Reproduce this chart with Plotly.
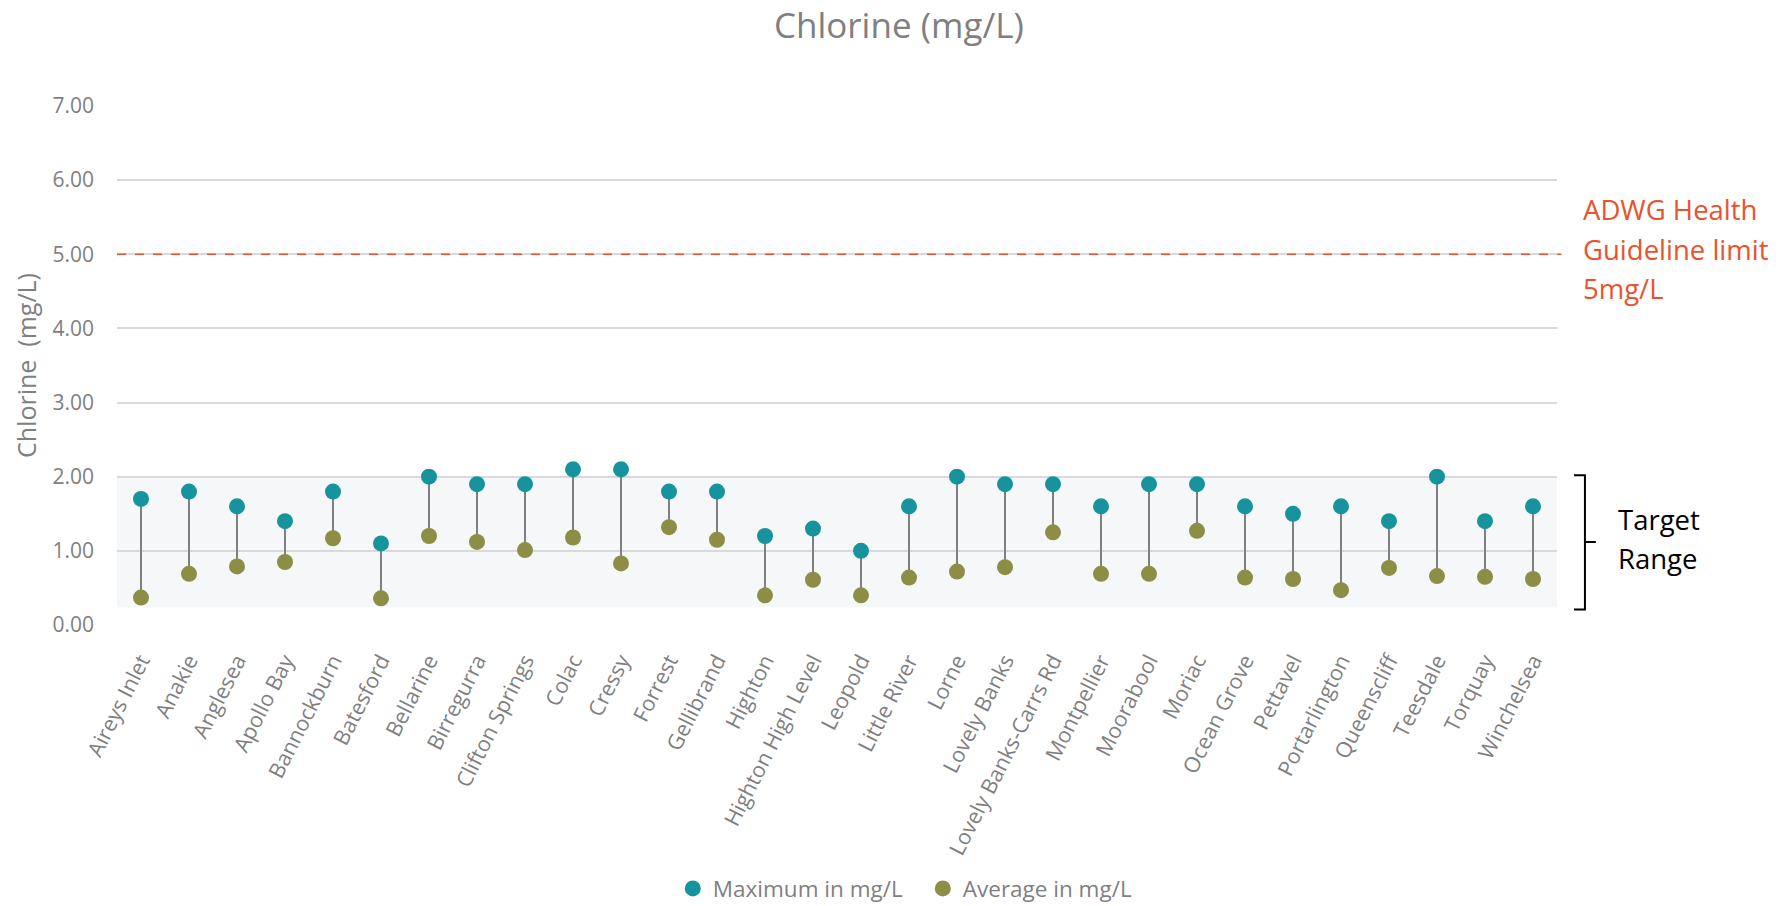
import plotly.graph_objects as go

sites = [
    "Aireys Inlet", "Anakie", "Anglesea", "Apollo Bay", "Bannockburn", "Batesford",
    "Bellarine", "Birregurra", "Clifton Springs", "Colac", "Cressy", "Forrest",
    "Gellibrand", "Highton", "Highton High Level", "Leopold", "Little River", "Lorne",
    "Lovely Banks", "Lovely Banks-Carrs Rd", "Montpellier", "Moorabool", "Moriac",
    "Ocean Grove", "Pettavel", "Portarlington", "Queenscliff", "Teesdale", "Torquay",
    "Winchelsea",
]
max_mg_l = [1.7, 1.8, 1.6, 1.4, 1.8, 1.1, 2.0, 1.9, 1.9, 2.1, 2.1, 1.8, 1.8, 1.2, 1.3,
            1.0, 1.6, 2.0, 1.9, 1.9, 1.6, 1.9, 1.9, 1.6, 1.5, 1.6, 1.4, 2.0, 1.4, 1.6]
avg_mg_l = [0.37, 0.69, 0.79, 0.85, 1.17, 0.36, 1.20, 1.12, 1.01, 1.18, 0.83, 1.32,
            1.15, 0.40, 0.61, 0.40, 0.64, 0.72, 0.78, 1.25, 0.69, 0.69, 1.27, 0.64,
            0.62, 0.47, 0.77, 0.66, 0.65, 0.62]
y_ticks = [0, 1, 2, 3, 4, 5, 6, 7]
guideline_limit = 5.0
guideline_lines = ["ADWG Health", "Guideline limit", "5mg/L"]
target_lines = ["Target", "Range"]
target_low, target_high = 0.24, 2.0

FONT = "Open Sans"
GREY = "#7f7f7f"
TEAL = "#17939e"
OLIVE = "#8b8e44"
RED = "#e8532d"

fig = go.Figure()

# stems joining average to maximum
stem_x, stem_y = [], []
for s, lo, hi in zip(sites, avg_mg_l, max_mg_l):
    stem_x += [s, s, None]
    stem_y += [lo, hi, None]
fig.add_trace(go.Scatter(x=stem_x, y=stem_y, mode="lines",
                         line=dict(color="#808080", width=2),
                         showlegend=False, hoverinfo="skip"))

fig.add_trace(go.Scatter(x=sites, y=max_mg_l, mode="markers", name="Maximum in mg/L",
                         marker=dict(color=TEAL, size=16)))
fig.add_trace(go.Scatter(x=sites, y=avg_mg_l, mode="markers", name="Average in mg/L",
                         marker=dict(color=OLIVE, size=16)))

# target range band
fig.add_shape(type="rect", xref="paper", yref="y", x0=0, x1=1.0,
              y0=target_low, y1=target_high, fillcolor="#f5f7f9",
              line=dict(width=0), layer="below")

# guideline limit line and its label (one annotation per line for wider leading)
fig.add_shape(type="line", xref="paper", yref="y", x0=0, x1=1.003,
              y0=guideline_limit, y1=guideline_limit,
              line=dict(color=RED, width=1.5, dash="dash"))
for i, line in enumerate(guideline_lines):
    fig.add_annotation(xref="paper", yref="y", x=1.0166,
                       y=guideline_limit + 0.60 - 0.53 * i,
                       xanchor="left", yanchor="middle", align="left",
                       text=line, showarrow=False,
                       font=dict(family=FONT, size=27.5, color=RED))

# bracket marking the target range
fig.add_shape(type="path", xref="paper", yref="y",
              path=(f"M 1.0118,{target_high + 0.02} L 1.0194,{target_high + 0.02} "
                    f"L 1.0194,{target_low - 0.03} L 1.0118,{target_low - 0.03} "
                    f"M 1.0194,1.12 L 1.027,1.12"),
              line=dict(color="black", width=2))
for i, line in enumerate(target_lines):
    fig.add_annotation(xref="paper", yref="y", x=1.0413, y=1.425 - 0.53 * i,
                       xanchor="left", yanchor="middle", align="left",
                       text=line, showarrow=False,
                       font=dict(family=FONT, size=27.5, color="black"))

fig.update_layout(
    width=1787, height=906,
    margin=dict(l=117, r=230, t=106, b=281, autoexpand=False),
    paper_bgcolor="white", plot_bgcolor="rgba(0,0,0,0)",
    font=dict(family=FONT, color=GREY),
    title=dict(text="Chlorine (mg/L)", x=0.503, xref="container", xanchor="center",
               y=0.972, yanchor="middle",
               font=dict(family=FONT, size=35, color=GREY)),
    legend=dict(orientation="h", x=0.3765, xref="container", xanchor="left",
                y=0.019, yref="container", yanchor="middle",
                font=dict(family=FONT, size=22.5, color=GREY),
                itemwidth=30, entrywidth=205, entrywidthmode="pixels",
                tracegroupgap=0, traceorder="normal"),
    showlegend=True,
)
fig.update_xaxes(type="category", categoryorder="array", categoryarray=sites,
                 range=[-0.5, len(sites) - 0.5], showgrid=False, zeroline=False,
                 showline=False, tickangle=-63, ticklabelstandoff=18, automargin=False,
                 tickfont=dict(family=FONT, size=21.5, color=GREY))
fig.update_yaxes(range=[0, 7], tickvals=y_ticks,
                 ticktext=[f"{v:.2f}" for v in y_ticks], automargin=False,
                 showgrid=True, gridcolor="#d9d9d9", gridwidth=1.5,
                 zeroline=False, showline=False, ticklabelstandoff=22,
                 tickfont=dict(family=FONT, size=21, color=GREY),
                 title=dict(text="Chlorine \u00a0(mg/L)", standoff=8,
                            font=dict(family=FONT, size=25, color=GREY)))

fig.write_html("out.html")
